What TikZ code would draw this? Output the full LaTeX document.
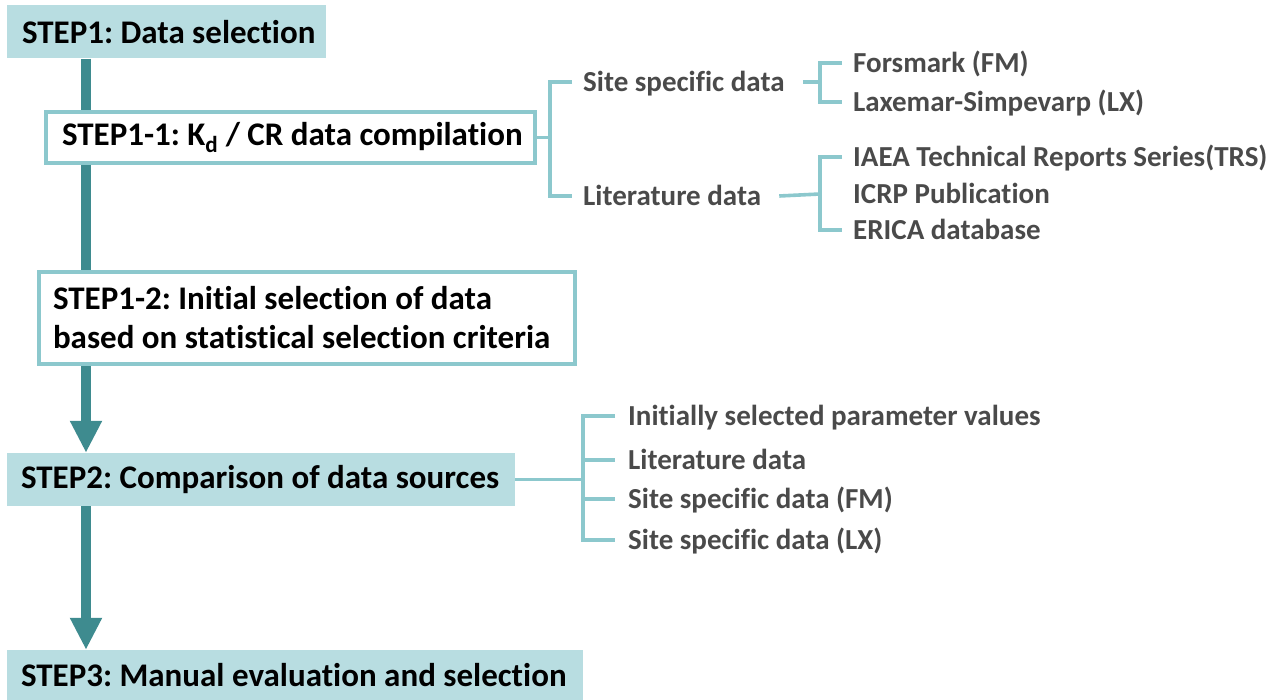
\documentclass[tikz,border=0pt]{standalone}
\usepackage{fontspec}
\setmainfont{Carlito}[Ligatures=CommonOff]
\usetikzlibrary{arrows.meta}
\definecolor{boxfill}{HTML}{B8DDE1}
\definecolor{flow}{HTML}{3E8B8F}
\definecolor{branch}{HTML}{8CC8CD}
\definecolor{labelgray}{HTML}{4A4A4A}
\frenchspacing
\begin{document}
\begin{tikzpicture}[x=1pt,y=-1pt,
  stepfill/.style={fill=boxfill, draw=none, inner ysep=0pt, align=left,
    font=\fontsize{33}{39}\selectfont\bfseries, text=black},
  stepframe/.style={fill=white, draw=branch, line width=4pt, inner ysep=0pt, align=left,
    font=\fontsize{33}{39}\selectfont\bfseries, text=black},
  lbl/.style={anchor=west, inner sep=0pt, text height=18.6pt, text depth=0pt,
    font=\fontsize{29}{30}\selectfont\bfseries, text=labelgray},
  flowline/.style={draw=flow, line width=10pt},
  flowarrow/.style={draw=flow, line width=10pt, -{Triangle[width=30pt,length=32pt]}},
  branchline/.style={draw=branch, line width=3.6pt}
]
\useasboundingbox (0,0) rectangle (1280,700);

% main steps
\node[stepfill, minimum width=319pt, minimum height=53pt, inner xsep=15pt]
  (step1) at (166.5,32) {\makebox[289pt][l]{STEP1: Data selection}};
\node[stepframe, minimum width=489pt, minimum height=51pt, inner xsep=16pt]
  (s11) at (290.5,137.5) {\makebox[457pt][l]{STEP1-1: K\textsubscript{d} / CR data compilation}};
\node[stepframe, minimum width=536pt, minimum height=92pt, inner xsep=14pt]
  (s12) at (307,318) {\makebox[508pt][l]{STEP1-2: Initial selection of data}\\\makebox[508pt][l]{based on statistical selection criteria}};
\node[stepfill, minimum width=508pt, minimum height=53pt, inner xsep=14pt]
  (step2) at (261,479.5) {\makebox[480pt][l]{STEP2: Comparison of data sources}};
\node[stepfill, minimum width=576pt, minimum height=50pt, inner xsep=14pt]
  (step3) at (295,675) {\makebox[548pt][l]{STEP3: Manual evaluation and selection}};

% spine
\coordinate (spine) at (86,0);
\draw[flowline] (step1.south -| spine) -- (s11.north -| spine);
\draw[flowline] (s11.south -| spine) -- (s12.north -| spine);
\draw[flowarrow] (s12.south -| spine) -- (step2.north -| spine);
\draw[flowarrow] (step2.south -| spine) -- (step3.north -| spine);

% tree 1
\node[lbl] (site) at (583,82) {Site specific data};
\node[lbl] (lit) at (583,196) {Literature data};
\node[lbl] (fm) at (853,63) {Forsmark (FM)};
\node[lbl] (lx) at (853,102) {Laxemar-Simpevarp (LX)};
\node[lbl] (iaea) at (853,157) {IAEA Technical Reports Series(TRS)};
\node[lbl] (icrp) at (853,194) {ICRP Publication};
\node[lbl] (erica) at (853,230) {ERICA database};

\coordinate (b1) at (550,0);
\coordinate (b2) at (820,0);
\draw[branchline] (s11.east) -- (s11.east -| b1);
\draw[branchline] ([xshift=-11pt]site.west) -- (site.west -| b1) -- (lit.west -| b1) -- ([xshift=-11pt]lit.west);
\draw[branchline] ([xshift=18pt]site.east) -- (site.east -| b2);
\draw[branchline] ([xshift=-11pt]fm.west) -- (fm.west -| b2) -- (lx.west -| b2) -- ([xshift=-11pt]lx.west);
\draw[branchline] ([xshift=18pt]lit.east) -- (icrp.west -| b2);
\draw[branchline] ([xshift=-11pt]iaea.west) -- (iaea.west -| b2) -- (erica.west -| b2) -- ([xshift=-11pt]erica.west);

% tree 2
\node[lbl] (init) at (628,416) {Initially selected parameter values};
\node[lbl] (lit2) at (628,460) {Literature data};
\node[lbl] (sfm) at (628,499) {Site specific data (FM)};
\node[lbl] (slx) at (628,540) {Site specific data (LX)};
\coordinate (b3) at (583,0);
\draw[branchline] (step2.east) -- (step2.east -| b3);
\draw[branchline] ([xshift=-13pt]init.west) -- (init.west -| b3) -- (slx.west -| b3) -- ([xshift=-13pt]slx.west);
\draw[branchline] (lit2.west -| b3) -- ([xshift=-13pt]lit2.west);
\draw[branchline] (sfm.west -| b3) -- ([xshift=-13pt]sfm.west);
\end{tikzpicture}
\end{document}
